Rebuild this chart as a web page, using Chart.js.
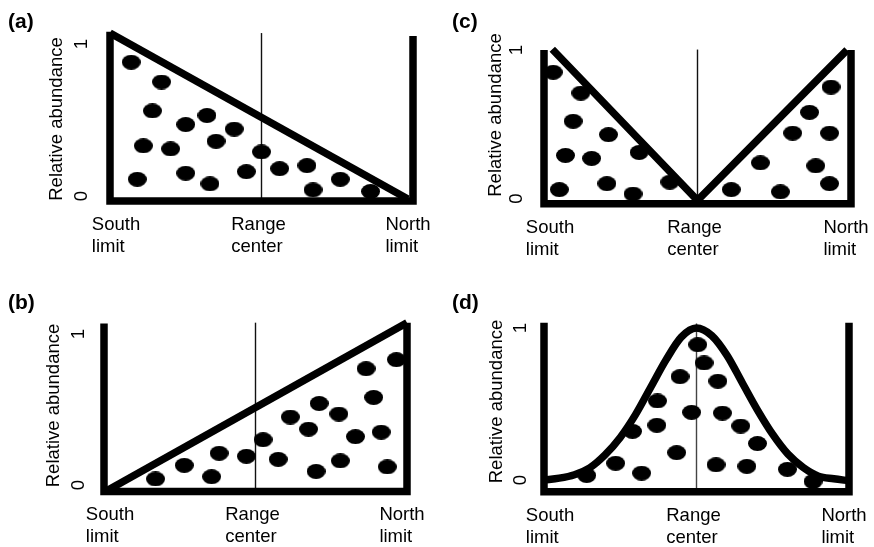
<!DOCTYPE html>
<html><head><meta charset="utf-8">
<script src="https://cdn.jsdelivr.net/npm/chart.js@4.4.1/dist/chart.umd.min.js"></script>
<style>
html,body{margin:0;padding:0;background:#fff;}
#wrap{position:relative;width:874px;height:547px;overflow:hidden;background:#fff;}
canvas{position:absolute;left:0;top:0;}
.lab{position:absolute;font:bold 21px "Liberation Sans",Arial,Helvetica,sans-serif;color:#000;line-height:21px;white-space:nowrap;}
</style></head><body>
<div id="wrap">
<canvas id="ca" width="874" height="547"></canvas>
<canvas id="cb" width="874" height="547"></canvas>
<canvas id="cc" width="874" height="547"></canvas>
<canvas id="cd" width="874" height="547"></canvas>
<div class="lab" id="la" style="left:8px;top:10px;"></div>
<div class="lab" id="lb" style="left:8px;top:291px;"></div>
<div class="lab" id="lc" style="left:452px;top:10px;"></div>
<div class="lab" id="ld" style="left:452px;top:291px;"></div>
</div>
<script>
// ---------- shared axis text ----------
const xTickValues = [0, 0.5, 1];
const xTickLabels = [['South', 'limit'], ['Range', 'center'], ['North', 'limit']];
const yTickValues = [0, 1];
const yTickLabels = ['0', '1'];
const yAxisTitle = 'Relative abundance';
const panelLetters = ['(a)', '(b)', '(c)', '(d)'];

// ---------- panel (a): abundance declines toward the north ----------
const aDotsX = [0.07, 0.17, 0.14, 0.25, 0.32, 0.41, 0.11, 0.20, 0.35, 0.50, 0.09, 0.25, 0.33, 0.45, 0.56, 0.65, 0.67, 0.76, 0.86];
const aDotsY = [0.88, 0.75, 0.56, 0.47, 0.53, 0.44, 0.33, 0.31, 0.36, 0.29, 0.11, 0.15, 0.08, 0.16, 0.18, 0.20, 0.04, 0.11, 0.03];
const aShapeX = [0, 0.983];
const aShapeY = [1.072, -0.02];
const aFrameX = [0, 0, 1, 1];
const aFrameY = [1.08, -0.033, -0.033, 1.053];
const aCenterX = [0.5, 0.5];
const aCenterY = [-0.033, 1.072];

// ---------- panel (b): abundance increases toward the north ----------
const bDotsX = [0.17, 0.265, 0.355, 0.38, 0.47, 0.525, 0.575, 0.615, 0.675, 0.71, 0.70, 0.775, 0.83, 0.78, 0.865, 0.89, 0.915, 0.935, 0.965];
const bDotsY = [0.04, 0.13, 0.055, 0.21, 0.19, 0.30, 0.17, 0.45, 0.37, 0.54, 0.09, 0.47, 0.32, 0.16, 0.77, 0.58, 0.35, 0.12, 0.83];
const bShapeX = [0.009, 1.0];
const bShapeY = [-0.038, 1.075];
const bFrameX = [0, 0, 1, 1];
const bFrameY = [1.07, -0.043, -0.043, 1.075];
const bCenterX = [0.5, 0.5];
const bCenterY = [-0.043, 1.075];

// ---------- panel (c): abundance highest at both limits ----------
const cDotsX = [0.03, 0.12, 0.095, 0.21, 0.07, 0.155, 0.31, 0.05, 0.205, 0.29, 0.41, 0.61, 0.705, 0.77, 0.81, 0.865, 0.885, 0.93, 0.93, 0.935];
const cDotsY = [0.85, 0.71, 0.52, 0.43, 0.29, 0.27, 0.31, 0.06, 0.10, 0.03, 0.11, 0.06, 0.24, 0.045, 0.44, 0.58, 0.22, 0.44, 0.10, 0.75];
const cShapeX = [0.027, 0.5, 0.987];
const cShapeY = [1.005, -0.012, 1.0];
const cFrameX = [0, 0, 1, 1];
const cFrameY = [1.0, -0.035, -0.035, 1.0];
const cCenterX = [0.5, 0.5];
const cCenterY = [-0.01, 1.003];

// ---------- panel (d): abundance peaks at the range center ----------
const dDotsX = [0.14, 0.235, 0.32, 0.29, 0.37, 0.372, 0.435, 0.446, 0.484, 0.504, 0.525, 0.57, 0.585, 0.645, 0.564, 0.665, 0.70, 0.798, 0.882];
const dDotsY = [0.03, 0.11, 0.045, 0.32, 0.36, 0.52, 0.18, 0.68, 0.445, 0.89, 0.77, 0.65, 0.44, 0.355, 0.10, 0.09, 0.24, 0.07, -0.01];
const dCurveX = [0, 0.05, 0.10, 0.15, 0.20, 0.25, 0.30, 0.35, 0.40, 0.45, 0.50, 0.55, 0.60, 0.65, 0.70, 0.75, 0.80, 0.85, 0.90, 0.95, 1.0];
const dCurveY = [0.0, 0.012, 0.035, 0.08, 0.165, 0.28, 0.43, 0.61, 0.79, 0.94, 1.0, 0.95, 0.82, 0.64, 0.46, 0.30, 0.17, 0.082, 0.025, 0.008, -0.005];
const dFrameX = [0, 0, 1, 1];
const dFrameY = [1.035, -0.077, -0.077, 1.035];
const dCenterX = [0.5, 0.5];
const dCenterY = [-0.077, 1.03];

// ---------- layout / style ----------
const FAMILY = '"Liberation Sans", Arial, Helvetica, sans-serif';
const TEXT_SIZE = 18.5;
const THICK = 7.5;
const LAYOUT = {
  a: {xL: 110, xR: 413, y0: 196, y1: 44, titleX: 57, titleY: 119, tickGap: 23, frameBottom: -0.033, centerColor: '#111'},
  b: {xL: 104, xR: 407, y0: 485, y1: 334, titleX: 54, titleY: 405.5, tickGap: 20, frameBottom: -0.043, centerColor: '#111'},
  c: {xL: 544, xR: 851, y0: 198.5, y1: 50, titleX: 496, titleY: 115, tickGap: 22, frameBottom: -0.035, centerColor: '#111'},
  d: {xL: 544, xR: 849, y0: 480, y1: 328, titleX: 497, titleY: 401.5, tickGap: 18, frameBottom: -0.077, centerColor: '#444'}
};
const LABEL_NUDGE = [6, -3, -5];

function makeDot(w, h) {
  const c = document.createElement('canvas');
  c.width = w; c.height = h;
  const g = c.getContext('2d');
  g.fillStyle = '#000';
  g.beginPath();
  g.ellipse(w / 2, h / 2, w / 2, h / 2, 0, 0, Math.PI * 2);
  g.fill();
  return c;
}
const DOT = makeDot(19, 15);

const tickPlugin = {
  id: 'customTicks',
  afterDraw(chart, args, o) {
    const {ctx} = chart;
    const x = chart.scales.x, y = chart.scales.y;
    ctx.save();
    ctx.fillStyle = '#000';
    ctx.font = TEXT_SIZE + 'px ' + FAMILY;
    const axisPx = x.getPixelForValue(0);
    yTickValues.forEach((v, i) => {
      ctx.save();
      ctx.translate(axisPx - o.tickGap, y.getPixelForValue(v));
      ctx.rotate(-Math.PI / 2);
      ctx.textAlign = 'center';
      ctx.textBaseline = 'alphabetic';
      ctx.fillText(yTickLabels[i], 0, 0);
      ctx.restore();
    });
    const base = y.getPixelForValue(o.frameBottom) + 29;
    ctx.textAlign = 'left';
    ctx.textBaseline = 'alphabetic';
    xTickValues.forEach((v, i) => {
      const lines = xTickLabels[i];
      const w = ctx.measureText(lines[0]).width;
      const left = x.getPixelForValue(v) - w / 2 + LABEL_NUDGE[i];
      lines.forEach((ln, j) => ctx.fillText(ln, left, base + j * 22));
    });
    ctx.restore();
  }
};

function pts(xs, ys) { return xs.map((xv, i) => ({x: xv, y: ys[i]})); }
function lineSet(xs, ys, w, color, extra) {
  return Object.assign({
    type: 'line', data: pts(xs, ys), borderColor: color, backgroundColor: color,
    borderWidth: w, pointRadius: 0, pointHoverRadius: 0, showLine: true, fill: false,
    clip: false, tension: 0, borderCapStyle: 'butt', borderJoinStyle: 'miter'
  }, extra || {});
}

function build(canvasId, L, D) {
  const unit = L.y0 - L.y1;
  const c = (L.y0 - L.titleY) / unit;
  const h = 0.62;
  const top = L.titleY - h * unit, bottom = L.titleY + h * unit;
  const padLeft = L.titleX - TEXT_SIZE * 1.2 / 2;
  const wy = L.xL - padLeft;
  new Chart(document.getElementById(canvasId), {
    type: 'scatter',
    data: {datasets: [
      {type: 'scatter', data: pts(D.dotsX, D.dotsY), pointStyle: DOT, pointRadius: 9, pointHoverRadius: 9,
       backgroundColor: '#000', borderColor: '#000', showLine: false, clip: false},
      lineSet(D.shapeX, D.shapeY, THICK, '#000', D.smooth ? {cubicInterpolationMode: 'monotone', borderJoinStyle: 'round'} : {}),
      lineSet(D.frameX, D.frameY, THICK, '#000'),
      lineSet(D.centerX, D.centerY, 1.4, L.centerColor)
    ]},
    options: {
      responsive: false, animation: false, events: [],
      layout: {padding: {left: padLeft, right: 874 - L.xR, top: top, bottom: 547 - bottom}},
      plugins: {
        legend: {display: false}, tooltip: {enabled: false},
        customTicks: {tickGap: L.tickGap, frameBottom: L.frameBottom}
      },
      scales: {
        x: {type: 'linear', min: 0, max: 1, display: false},
        y: {
          type: 'linear', min: c - h, max: c + h, display: true,
          ticks: {display: false}, grid: {display: false}, border: {display: false},
          title: {display: true, text: yAxisTitle, color: '#000', font: {family: FAMILY, size: TEXT_SIZE}, padding: 0},
          afterFit: (s) => { s.width = wy; }
        }
      }
    },
    plugins: [tickPlugin]
  });
}

build('ca', LAYOUT.a, {dotsX: aDotsX, dotsY: aDotsY, shapeX: aShapeX, shapeY: aShapeY, frameX: aFrameX, frameY: aFrameY, centerX: aCenterX, centerY: aCenterY});
build('cb', LAYOUT.b, {dotsX: bDotsX, dotsY: bDotsY, shapeX: bShapeX, shapeY: bShapeY, frameX: bFrameX, frameY: bFrameY, centerX: bCenterX, centerY: bCenterY});
build('cc', LAYOUT.c, {dotsX: cDotsX, dotsY: cDotsY, shapeX: cShapeX, shapeY: cShapeY, frameX: cFrameX, frameY: cFrameY, centerX: cCenterX, centerY: cCenterY});
build('cd', LAYOUT.d, {dotsX: dDotsX, dotsY: dDotsY, shapeX: dCurveX, shapeY: dCurveY, frameX: dFrameX, frameY: dFrameY, centerX: dCenterX, centerY: dCenterY, smooth: true});

document.getElementById('la').textContent = panelLetters[0];
document.getElementById('lb').textContent = panelLetters[1];
document.getElementById('lc').textContent = panelLetters[2];
document.getElementById('ld').textContent = panelLetters[3];
</script>
</body></html>
